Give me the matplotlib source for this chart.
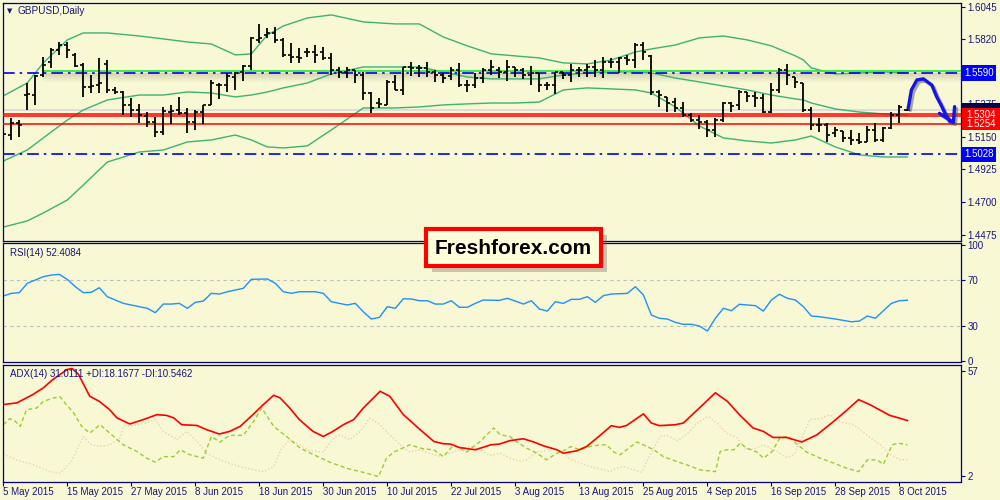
import matplotlib
matplotlib.use("Agg")
import matplotlib.pyplot as plt
import matplotlib.patheffects as pe
from matplotlib.patches import Rectangle
from matplotlib.transforms import blended_transform_factory

plt.rcParams['font.family'] = ['Liberation Sans', 'DejaVu Sans']

# ---------------- data (GBPUSD daily, 5 May - 9 Oct 2015) ----------------
bar_open = [1.5155, 1.5162, 1.5245, 1.5437, 1.5437, 1.5575, 1.5664, 1.5747, 1.5781, 1.5713,
            1.5644, 1.5492, 1.5506, 1.5651, 1.5472, 1.5458, 1.5369, 1.5334, 1.5293, 1.5252,
            1.5183, 1.5320, 1.5334, 1.5314, 1.5252, 1.5320, 1.5369, 1.5506, 1.5506, 1.5561,
            1.5596, 1.5637, 1.5816, 1.5850, 1.5864, 1.5816, 1.5713, 1.5699, 1.5733, 1.5733,
            1.5733, 1.5692, 1.5609, 1.5596, 1.5609, 1.5575, 1.5451, 1.5382, 1.5369, 1.5527,
            1.5472, 1.5630, 1.5623, 1.5623, 1.5596, 1.5575, 1.5568, 1.5609, 1.5506, 1.5506,
            1.5554, 1.5609, 1.5609, 1.5596, 1.5630, 1.5609, 1.5575, 1.5589, 1.5506, 1.5506,
            1.5596, 1.5575, 1.5609, 1.5609, 1.5630, 1.5609, 1.5664, 1.5664, 1.5692, 1.5678,
            1.5781, 1.5706, 1.5458, 1.5420, 1.5389, 1.5348, 1.5300, 1.5265, 1.5252, 1.5197,
            1.5265, 1.5382, 1.5369, 1.5458, 1.5431, 1.5417, 1.5320, 1.5472, 1.5609, 1.5561,
            1.5520, 1.5334, 1.5231, 1.5231, 1.5176, 1.5190, 1.5142, 1.5128, 1.5114, 1.5197,
            1.5128, 1.5210, 1.5300, 1.5334]
bar_high = [1.5210, 1.5279, 1.5265, 1.5520, 1.5575, 1.5699, 1.5761, 1.5802, 1.5802, 1.5726,
            1.5658, 1.5575, 1.5692, 1.5678, 1.5492, 1.5465, 1.5417, 1.5376, 1.5320, 1.5286,
            1.5355, 1.5369, 1.5424, 1.5348, 1.5334, 1.5369, 1.5541, 1.5520, 1.5589, 1.5596,
            1.5644, 1.5836, 1.5926, 1.5898, 1.5905, 1.5830, 1.5795, 1.5761, 1.5761, 1.5781,
            1.5768, 1.5726, 1.5630, 1.5630, 1.5609, 1.5596, 1.5458, 1.5417, 1.5541, 1.5575,
            1.5630, 1.5664, 1.5644, 1.5664, 1.5609, 1.5589, 1.5630, 1.5658, 1.5541, 1.5589,
            1.5623, 1.5678, 1.5630, 1.5678, 1.5630, 1.5623, 1.5637, 1.5589, 1.5527, 1.5596,
            1.5596, 1.5651, 1.5630, 1.5651, 1.5678, 1.5699, 1.5692, 1.5699, 1.5713, 1.5795,
            1.5802, 1.5713, 1.5472, 1.5424, 1.5417, 1.5389, 1.5314, 1.5300, 1.5265, 1.5279,
            1.5389, 1.5389, 1.5472, 1.5458, 1.5458, 1.5444, 1.5520, 1.5623, 1.5651, 1.5561,
            1.5520, 1.5355, 1.5279, 1.5245, 1.5217, 1.5190, 1.5197, 1.5176, 1.5224, 1.5245,
            1.5217, 1.5320, 1.5369, 1.5341]
bar_low = [1.5073, 1.5128, 1.5148, 1.5334, 1.5369, 1.5561, 1.5623, 1.5713, 1.5692, 1.5630,
           1.5424, 1.5451, 1.5451, 1.5451, 1.5444, 1.5300, 1.5286, 1.5245, 1.5217, 1.5148,
           1.5162, 1.5238, 1.5300, 1.5176, 1.5197, 1.5238, 1.5369, 1.5410, 1.5458, 1.5472,
           1.5534, 1.5609, 1.5795, 1.5830, 1.5795, 1.5699, 1.5658, 1.5658, 1.5699, 1.5658,
           1.5678, 1.5575, 1.5554, 1.5554, 1.5520, 1.5403, 1.5314, 1.5348, 1.5369, 1.5472,
           1.5437, 1.5568, 1.5561, 1.5561, 1.5527, 1.5520, 1.5541, 1.5492, 1.5458, 1.5486,
           1.5520, 1.5575, 1.5554, 1.5534, 1.5561, 1.5548, 1.5506, 1.5458, 1.5472, 1.5444,
           1.5548, 1.5527, 1.5561, 1.5561, 1.5561, 1.5554, 1.5623, 1.5589, 1.5644, 1.5623,
           1.5678, 1.5437, 1.5355, 1.5320, 1.5320, 1.5286, 1.5252, 1.5204, 1.5148, 1.5148,
           1.5252, 1.5320, 1.5334, 1.5389, 1.5355, 1.5314, 1.5314, 1.5451, 1.5506, 1.5486,
           1.5320, 1.5197, 1.5183, 1.5114, 1.5148, 1.5114, 1.5093, 1.5100, 1.5114, 1.5114,
           1.5114, 1.5204, 1.5245, 1.5327]
bar_close = [1.5169, 1.5245, 1.5231, 1.5444, 1.5568, 1.5644, 1.5747, 1.5781, 1.5747, 1.5637,
             1.5492, 1.5499, 1.5520, 1.5472, 1.5458, 1.5369, 1.5334, 1.5300, 1.5252, 1.5183,
             1.5327, 1.5327, 1.5314, 1.5252, 1.5320, 1.5369, 1.5520, 1.5506, 1.5568, 1.5589,
             1.5637, 1.5830, 1.5830, 1.5864, 1.5816, 1.5713, 1.5699, 1.5692, 1.5733, 1.5713,
             1.5692, 1.5609, 1.5596, 1.5609, 1.5575, 1.5451, 1.5348, 1.5376, 1.5527, 1.5472,
             1.5630, 1.5623, 1.5623, 1.5596, 1.5575, 1.5554, 1.5609, 1.5506, 1.5506, 1.5554,
             1.5609, 1.5630, 1.5596, 1.5630, 1.5609, 1.5575, 1.5589, 1.5506, 1.5506, 1.5596,
             1.5575, 1.5609, 1.5609, 1.5630, 1.5609, 1.5664, 1.5664, 1.5692, 1.5678, 1.5781,
             1.5733, 1.5458, 1.5437, 1.5382, 1.5348, 1.5300, 1.5265, 1.5252, 1.5197, 1.5265,
             1.5382, 1.5362, 1.5458, 1.5431, 1.5417, 1.5320, 1.5472, 1.5609, 1.5575, 1.5527,
             1.5334, 1.5231, 1.5231, 1.5162, 1.5197, 1.5142, 1.5128, 1.5114, 1.5197, 1.5128,
             1.5210, 1.5300, 1.5355, 1.5334]

# Bollinger bands read at sample bars
band_bar = [0, 3, 5, 8, 10, 13, 17, 20, 23, 26, 29, 31, 33, 35, 38, 41, 45, 49, 52, 55, 58,
            61, 64, 67, 70, 73, 76, 79, 81, 84, 87, 90, 93, 96, 99, 100, 101, 104, 107, 110, 113]
band_upper = [1.5431, 1.5520, 1.5658, 1.5816, 1.5864, 1.5864, 1.5843, 1.5823, 1.5802, 1.5788,
              1.5713, 1.5720, 1.5850, 1.5912, 1.5967, 1.5988, 1.5940, 1.5926, 1.5926, 1.5836,
              1.5775, 1.5720, 1.5706, 1.5692, 1.5658, 1.5651, 1.5678, 1.5733, 1.5754, 1.5781,
              1.5830, 1.5843, 1.5816, 1.5775, 1.5706, 1.5678, 1.5623, 1.5582, 1.5589, 1.5596, 1.5589]
band_mid = [1.4983, 1.5059, 1.5142, 1.5265, 1.5334, 1.5403, 1.5437, 1.5437, 1.5458, 1.5451,
            1.5424, 1.5437, 1.5458, 1.5486, 1.5520, 1.5582, 1.5630, 1.5630, 1.5630, 1.5596,
            1.5561, 1.5548, 1.5548, 1.5548, 1.5575, 1.5589, 1.5596, 1.5596, 1.5589, 1.5554,
            1.5527, 1.5499, 1.5472, 1.5437, 1.5410, 1.5403, 1.5382, 1.5341, 1.5320, 1.5307, 1.5300]
band_lower = [1.4529, 1.4571, 1.4626, 1.4715, 1.4818, 1.4976, 1.5045, 1.5059, 1.5114, 1.5128,
              1.5162, 1.5128, 1.5080, 1.5073, 1.5087, 1.5197, 1.5348, 1.5348, 1.5355, 1.5369,
              1.5376, 1.5382, 1.5382, 1.5389, 1.5472, 1.5486, 1.5479, 1.5472, 1.5451, 1.5355,
              1.5224, 1.5142, 1.5121, 1.5107, 1.5128, 1.5142, 1.5155, 1.5080, 1.5025, 1.5011, 1.5011]

rsi_bar = [0, 1, 2, 3, 4, 5, 6, 7, 8, 9, 10, 11, 12, 13, 14, 15, 17, 18, 19, 20, 21, 22, 23, 24,
           25, 26, 27, 28, 30, 31, 33, 34, 35, 36, 37, 39, 40, 41, 43, 44, 45, 46, 47, 48, 49,
           50, 51, 52, 53, 54, 55, 56, 57, 58, 59, 60, 62, 63, 64, 65, 66, 67, 68, 69, 70, 71,
           72, 73, 74, 75, 76, 78, 79, 80, 81, 82, 83, 84, 85, 86, 87, 88, 89, 90, 91, 92, 94,
           95, 96, 97, 98, 99, 100, 101, 102, 104, 106, 107, 108, 109, 110, 111, 112, 113]
rsi_val = [56.1, 58.4, 59.0, 67.1, 70.0, 72.9, 74.3, 74.9, 70.5, 64.2, 59.0, 59.3, 63.3, 55.5,
           52.6, 49.7, 46.8, 45.4, 41.6, 49.1, 49.1, 49.7, 45.4, 50.6, 51.7, 58.4, 57.8, 59.8,
           62.8, 70.6, 70.9, 67.1, 59.8, 58.4, 59.8, 59.8, 58.4, 51.1, 48.3, 49.7, 42.4, 36.1,
           37.5, 46.8, 45.4, 53.7, 53.5, 52.0, 52.0, 49.1, 49.1, 52.0, 46.3, 46.3, 49.7, 52.6,
           52.3, 54.1, 51.7, 49.1, 52.0, 44.8, 43.0, 51.1, 49.7, 53.2, 53.2, 55.5, 50.6, 56.4,
           57.8, 58.4, 64.2, 57.0, 39.6, 36.7, 36.1, 33.2, 31.5, 31.5, 30.0, 25.7, 36.7, 45.4,
           43.3, 48.9, 47.7, 43.0, 52.6, 57.6, 54.1, 52.6, 46.8, 38.7, 38.1, 36.1, 33.7, 34.3,
           38.7, 36.7, 43.3, 49.7, 52.0, 52.4]

adx_bar = [0, 1.7, 3.7, 5, 6.2, 8, 8.6, 9.4, 10.8, 12, 13.3, 14.2, 15.8, 17.5, 19.2, 20.4, 21.3,
           22.3, 24.2, 25.4, 27, 28.3, 29.6, 31.2, 32.5, 33.8, 34.6, 35.8, 37, 38.7, 40, 41.2,
           42.5, 43.8, 45, 47.1, 48.3, 50, 52.1, 53.8, 55, 55.9, 57, 59, 60.9, 62, 63.3, 65,
           66.3, 67.5, 69.2, 70, 71.7, 72.9, 74.6, 76, 77, 77.9, 80, 81, 82, 84, 85, 87, 89,
           90.5, 92, 93.7, 95, 96.2, 97.9, 99.8, 101.7, 103.8, 105.5, 106.9, 108.3, 110.8, 111.9, 113]
adx_val = [39.4, 40.3, 44.7, 48.2, 52.6, 57.9, 58.4, 55.3, 43.8, 41.1, 36.7, 32.4, 29.2, 31.5,
           34.1, 33.7, 32.4, 28.8, 28.4, 26.2, 23.9, 25.3, 27.9, 34.1, 39.4, 44.3, 42.9, 37.6,
           31.5, 25.3, 22.6, 25.3, 28.8, 31.5, 37.6, 46.4, 43.8, 34.1, 26.2, 20.0, 18.8, 18.6,
           16.8, 15.6, 18.2, 18.6, 20.4, 21.4, 19.7, 17.7, 15.6, 13.8, 15.1, 17.3, 23.2, 28.3,
           27.4, 28.4, 34.5, 29.7, 28.3, 28.8, 29.7, 37.6, 45.6, 41.1, 34.1, 27.1, 25.3, 22.1,
           22.1, 19.7, 23.5, 30.6, 36.7, 42.0, 39.4, 33.7, 32.4, 31.0]

pdi_bar = [0, 0.8, 1.5, 2.1, 2.9, 4.2, 5, 6.3, 7.1, 7.7, 8.8, 9.8, 10.8, 12.1, 13.3, 15, 16.7,
           17.9, 19, 20, 21.3, 22.1, 23.3, 25, 26, 27.1, 28.3, 30, 31.3, 32.3, 33.8, 35.4, 37.1,
           38.8, 40.8, 42.9, 45.4, 46.9, 47.9, 48.8, 50.8, 52.5, 53.8, 55, 56.3, 57.9, 59.6,
           61.3, 62.1, 63.3, 64.2, 65.4, 66.7, 67.9, 69.2, 70.3, 70.9, 72.1, 73.3, 74.6, 75.4,
           76.3, 77.1, 77.9, 79.2, 80, 81.3, 82.5, 84.2, 85.4, 87.1, 89, 89.6, 90.4, 91.3, 92.1,
           92.9, 94.2, 95, 96.1, 97.1, 98.1, 98.8, 100.4, 102.1, 103.8, 105.4, 106.9, 108, 109.2,
           110, 111.1, 111.9, 113]
pdi_val = [28.8, 32.0, 30.6, 27.9, 36.7, 37.6, 41.1, 42.9, 43.5, 40.3, 35.0, 27.9, 24.4, 28.8,
           24.4, 18.2, 14.7, 11.2, 9.1, 12.0, 12.0, 15.6, 13.0, 11.2, 22.6, 19.7, 23.2, 23.2,
           30.6, 37.6, 27.9, 22.6, 16.5, 13.0, 9.1, 5.9, 3.3, 1.5, 11.2, 14.4, 18.2, 16.1, 15.6,
           12.0, 18.2, 14.4, 20.0, 27.1, 23.5, 22.6, 19.7, 16.5, 13.8, 10.3, 13.8, 15.6, 17.3,
           15.6, 17.3, 18.2, 18.2, 14.4, 13.0, 15.6, 19.7, 18.2, 15.6, 12.0, 9.4, 7.7, 5.0, 4.1,
           14.7, 15.6, 15.6, 19.1, 16.5, 14.4, 11.2, 14.7, 22.1, 22.6, 20.0, 14.4, 11.2, 8.6,
           5.9, 4.1, 10.3, 10.3, 8.0, 18.2, 19.1, 18.2]

mdi_bar = [0, 1.7, 3.8, 5.8, 7.1, 8.5, 10, 11, 12.1, 13.3, 14.6, 15, 16.7, 17.9, 19, 20, 21.7,
           22.9, 24.2, 25.4, 27.1, 28.8, 30.4, 32.5, 33.8, 34.8, 35.8, 37.1, 38.3, 40, 41.3,
           42.1, 43.3, 44.6, 45.8, 47.1, 48.3, 49.6, 50.8, 52.1, 53.3, 54.6, 55.8, 57.1, 58.3,
           59.6, 60.8, 62.1, 63.3, 64.6, 65.4, 66.7, 67.5, 68.3, 69.6, 70.8, 72.1, 73.3, 74.6,
           75.8, 76.7, 77.5, 78.3, 79.8, 80.4, 82.1, 82.9, 84.2, 85.4, 86.7, 88.1, 89.2, 90.4,
           91.7, 92.9, 94.2, 95, 96.7, 97.9, 98.8, 100, 100.8, 102.1, 103.3, 104.2, 105.4, 106.3,
           107.9, 109.6, 110.8, 112.1, 113]
mdi_val = [13.3, 10.3, 7.7, 4.1, 3.2, 9.4, 22.6, 18.2, 17.4, 18.2, 21.8, 27.9, 28.8, 29.7, 31.5,
           25.3, 20.9, 25.3, 20.0, 13.8, 10.3, 7.7, 5.9, 4.1, 6.8, 16.5, 20.9, 18.2, 15.1, 14.4,
           21.8, 23.5, 20.9, 25.3, 32.3, 28.8, 23.5, 18.2, 14.4, 15.6, 13.8, 12.1, 13.8, 15.6,
           17.4, 15.6, 12.6, 13.8, 11.2, 9.4, 10.3, 14.4, 14.7, 16.5, 15.1, 10.8, 8.5, 6.8, 5.5,
           4.1, 5.9, 6.8, 5.5, 3.8, 9.4, 22.6, 23.2, 20.4, 23.5, 29.7, 33.2, 29.7, 24.4, 21.8,
           15.6, 16.5, 18.2, 14.7, 11.5, 13.0, 23.5, 31.5, 32.0, 34.1, 30.6, 29.7, 28.8, 23.5,
           18.2, 13.3, 10.3, 10.5]

price_ticks = [1.6045, 1.5820, 1.5590, 1.5375, 1.5150, 1.4925, 1.4700, 1.4475]
rsi_ticks = [100, 70, 30, 0]
adx_ticks = [57, 2]
date_bar = [0, 8, 16, 24, 32, 40, 48, 56, 64, 72, 80, 88, 96, 104, 112]
date_labels = ['5 May 2015', '15 May 2015', '27 May 2015', '8 Jun 2015', '18 Jun 2015',
               '30 Jun 2015', '10 Jul 2015', '22 Jul 2015', '3 Aug 2015', '13 Aug 2015',
               '25 Aug 2015', '4 Sep 2015', '16 Sep 2015', '28 Sep 2015', '8 Oct 2015']

resistance = 1.5590
support = 1.5028
red_levels = [1.5304, 1.5290, 1.5238]
bid = 1.5334

# hand-drawn forecast arrow (bar index, price)
arrow_x = [113.1, 113.5, 114.2, 115.0, 116.05, 116.65, 117.2, 117.8, 118.3, 118.7]
arrow_y = [1.5346, 1.5472, 1.5541, 1.5548, 1.5506, 1.5426, 1.5369, 1.5300, 1.5254, 1.5252]

# ---------------- layout ----------------
W, H = 1000, 500
BG = '#F8F8D4'
NAVY = '#000080'
TXT = '#16167A'
XLIM = (-0.1, 119.7)


def px_box(l, t, r, b):
    return [l / W, 1 - b / H, (r - l) / W, (b - t) / H]


def style(a):
    a.set_facecolor(BG)
    for s in a.spines.values():
        s.set_color(NAVY)
        s.set_linewidth(0.9)
    a.set_xlim(*XLIM)
    a.yaxis.tick_right()
    a.tick_params(axis='y', colors=NAVY, labelcolor=TXT, labelsize=7, length=3,
                  width=0.8, pad=1.5)


fig = plt.figure(figsize=(10, 5), dpi=100, facecolor=BG)
ax = fig.add_axes(px_box(2.5, 2.7, 961, 241))
ax_rsi = fig.add_axes(px_box(2.5, 243.3, 961, 361.7))
ax_adx = fig.add_axes(px_box(2.5, 364.5, 961, 481.7))
for a in (ax, ax_rsi, ax_adx):
    style(a)

idx = list(range(len(bar_close)))
tick_w = 0.38

# ---- main price panel ----
ax.set_ylim(1.4433, 1.6072)
ax.set_yticks(price_ticks)
# the 1.5590 level carries its own tag box
ax.set_yticklabels(['' if v == resistance else f'{v:.4f}' for v in price_ticks])
ax.set_xticks([])

green = '#3CB371'
ax.plot(band_bar, band_upper, color=green, lw=1.0, zorder=2)
ax.plot(band_bar, band_mid, color=green, lw=1.0, zorder=2)
ax.plot(band_bar, band_lower, color=green, lw=1.0, zorder=2)

# shadow of the resistance line
px = 0.000688
for k in range(9):
    ax.fill_between([5, XLIM[1]], resistance - k * px, resistance - (k + 1) * px,
                    color='#8C8C6A', alpha=0.32 * (1 - k / 9), lw=0, zorder=1)
ax.axhline(resistance, color='#0000EE', lw=1.2, dashes=(7, 3, 1.5, 3), zorder=3)
ax.hlines(resistance + 2.0 * px, 5, XLIM[1], color='#2EF02E', lw=1.3, zorder=3.5)
ax.axhline(support, color='#0000EE', lw=1.2, dashes=(7, 3, 1.5, 3), zorder=3)
ax.axhline(bid, color='#D8D8D8', lw=1.2, zorder=1)
for lv in red_levels:
    ax.axhline(lv, color='#FF0000', lw=1.1, zorder=3)

ax.vlines(idx, bar_low, bar_high, color='black', lw=1.3, zorder=4)
ax.hlines(bar_open, [i - tick_w for i in idx], idx, color='black', lw=1.2, zorder=4)
ax.hlines(bar_close, idx, [i + tick_w for i in idx], color='black', lw=1.2, zorder=4)

shadow = [pe.SimpleLineShadow(offset=(1.5, -1.5), shadow_color='#555555', alpha=0.5),
          pe.Normal()]
ax.plot(arrow_x, arrow_y, color='#1414E6', lw=2.4, solid_capstyle='round',
        solid_joinstyle='round', zorder=6, path_effects=shadow)
ax.plot([117.0, 118.75, 118.9], [1.5311, 1.5250, 1.5357], color='#1414E6', lw=2.4,
        solid_capstyle='round', zorder=6, path_effects=shadow)

trans = blended_transform_factory(ax.transAxes, ax.transData)
for lv, txt in [(resistance, '1.5590'), (support, '1.5028')]:
    ax.text(1.003, lv, txt, transform=trans, ha='left', va='center', color='white',
            fontsize=7, clip_on=False, zorder=7,
            bbox=dict(boxstyle='square,pad=0.3', fc='#0000FF', ec='none'))

# price tags on the right edge
fig.add_artist(Rectangle((962 / W, 1 - 108 / H), 38 / W, 5 / H, transform=fig.transFigure,
                         fc='#000050', ec='none', zorder=7))
fig.add_artist(Rectangle((962 / W, 1 - 130 / H), 38 / W, 22 / H, transform=fig.transFigure,
                         fc='#FF0000', ec='none', zorder=8))
fig.text(966 / W, 1 - 115.5 / H, '1.5304', color='white', fontsize=7, va='center', zorder=9)
fig.text(966 / W, 1 - 124 / H, '1.5254', color='white', fontsize=7, va='center', zorder=9)

fig.text(7 / W, 1 - 11 / H, '\u25BC', color=TXT, fontsize=5, va='center',
         family='DejaVu Sans')
fig.text(18 / W, 1 - 11 / H, 'GBPUSD,Daily', color=TXT, fontsize=7.2, va='center')

# ---- RSI panel ----
ax_rsi.set_ylim(-1.0, 101.9)
ax_rsi.set_yticks(rsi_ticks)
ax_rsi.set_yticklabels([str(v) for v in rsi_ticks])
ax_rsi.set_xticks([])
for lv in (70, 30):
    ax_rsi.axhline(lv, color='#BEBEBE', lw=0.8, dashes=(3, 3))
ax_rsi.plot(rsi_bar, rsi_val, color='#1E90FF', lw=1.0)
ax_rsi.text(7 / 958.5, 0.915, 'RSI(14) 52.4084', transform=ax_rsi.transAxes, color=TXT,
            fontsize=7, va='center')

# ---- ADX panel ----
ax_adx.set_ylim(-1.2, 60.5)
ax_adx.set_yticks(adx_ticks)
ax_adx.set_yticklabels([str(v) for v in adx_ticks])
ax_adx.plot(mdi_bar, mdi_val, color='#F3CDB0', lw=1.0, dashes=(1, 1.5))
ax_adx.plot(pdi_bar, pdi_val, color='#9ACD32', lw=1.0, dashes=(3, 2))
ax_adx.plot(adx_bar, adx_val, color='#FF0000', lw=1.2)
ax_adx.text(7 / 958.5, 0.92, 'ADX(14) 31.0111 +DI:18.1677 -DI:10.5462',
            transform=ax_adx.transAxes, color=TXT, fontsize=7, va='center')
ax_adx.set_xticks(date_bar)
ax_adx.set_xticklabels(date_labels)
ax_adx.tick_params(axis='x', colors=NAVY, labelcolor=TXT, labelsize=7, length=3,
                   width=0.8, pad=1.0)
for lab in ax_adx.get_xticklabels():
    lab.set_horizontalalignment('left')

# ---- watermark box ----
fig.add_artist(Rectangle((432 / W, 1 - 272 / H), 175 / W, 37 / H, transform=fig.transFigure,
                         fc='#666666', ec='none', alpha=0.35, zorder=10))
fig.add_artist(Rectangle((426 / W, 1 - 266 / H), 175 / W, 37 / H, transform=fig.transFigure,
                         fc='#FFFFDC', ec='#FF0000', lw=3, zorder=11))
fig.text(513.5 / W, 1 - 248 / H, 'Freshforex.com', color='black', fontsize=15,
         fontweight='bold', ha='center', va='center', zorder=12)

fig.savefig('out.png', dpi=100, facecolor=BG)
